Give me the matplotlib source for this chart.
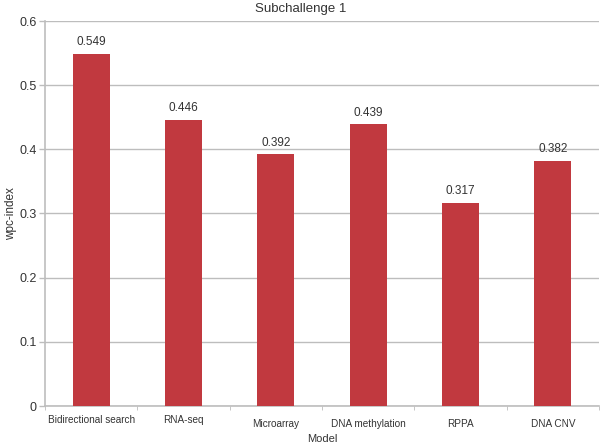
import matplotlib
matplotlib.use("Agg")
import matplotlib.pyplot as plt
import numpy as np

categories = ["Bidirectional search", "RNA-seq", "Microarray", "DNA methylation", "RPPA", "DNA CNV"]
values = [0.549, 0.446, 0.392, 0.439, 0.317, 0.382]
yticks = [0, 0.1, 0.2, 0.3, 0.4, 0.5, 0.6]
ytick_labels = ["0", "0.1", "0.2", "0.3", "0.4", "0.5", "0.6"]

plt.rcParams['font.family'] = ['Liberation Sans', 'DejaVu Sans']
fig = plt.figure(figsize=(6.02, 4.44), dpi=100)
ax = fig.add_axes([45/602, 38/444, 554/602, 385/444])

bar_color = "#C1393F"
grid_color = "#BDBDBD"
text_color = "#333333"

x = np.arange(len(categories))
bars = ax.bar(x, values, width=0.4, color=bar_color, zorder=3)
for xi, v in zip(x, values):
    ax.annotate(f"{v:.3f}", (xi, v), xytext=(0, 4), textcoords="offset points",
                ha="center", va="bottom", fontsize=8.5, color=text_color)

ax.set_xlim(-0.5, len(categories) - 0.5)
ax.set_ylim(0, 0.6)
ax.set_yticks(yticks)
ax.set_yticklabels(ytick_labels, fontsize=9, color=text_color)
ax.yaxis.grid(True, color=grid_color, linewidth=1.0, zorder=0)
ax.set_axisbelow(True)

ax.set_xticks(x)
ax.set_xticklabels(categories, fontsize=7.2, color=text_color)
ax.tick_params(axis='x', which='major', length=0)
for i, lab in enumerate(ax.get_xticklabels()):
    lab.set_y(-0.012 if i < 2 else -0.022)
ax.set_xticks(np.arange(len(categories) + 1) - 0.5, minor=True)
ax.tick_params(axis='x', which='minor', length=3, color=grid_color, direction='out')
ax.tick_params(axis='y', length=4, color=grid_color, width=1, pad=2)

for s in ["top", "right"]:
    ax.spines[s].set_visible(False)
for s in ["left", "bottom"]:
    ax.spines[s].set_color(grid_color)
    ax.spines[s].set_linewidth(1.2)

ax.set_xlabel("Model", fontsize=8, color=text_color)
ax.xaxis.set_label_coords(0.5, -28/385)
ax.set_ylabel("wpc-index", fontsize=8.5, color=text_color)
ax.yaxis.set_label_coords(-28/554, 0.5)
fig.text(0.5, 1 - 9/444, "Subchallenge 1", ha="center", va="center", fontsize=9.5, color=text_color)

fig.savefig("out.png", dpi=100)
